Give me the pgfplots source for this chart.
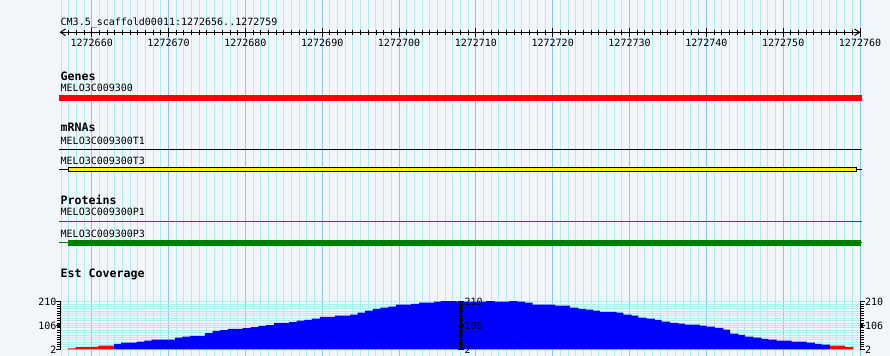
\documentclass[border=0pt]{standalone}
\usepackage{fontspec}
\usepackage{pgfplots}
\pgfplotsset{compat=1.18}
\newfontfamily\pixfont{DejaVu Sans Mono}
\newcommand\sm{\pixfont\fontsize{10bp}{12bp}\selectfont}
\newcommand\bd{\pixfont\bfseries\fontsize{11.6bp}{13bp}\selectfont}
\definecolor{bgc}{RGB}{242,245,250}
\definecolor{gmin}{RGB}{175,238,238}
\definecolor{gmaj}{RGB}{130,200,245}
\definecolor{protgreen}{RGB}{0,128,0}
\begin{document}
\begin{tikzpicture}
\useasboundingbox (0,0) rectangle (890bp,356bp);
% ---------- main canvas: x = position - 1272650, y = pixel row ----------
\begin{axis}[name=main, at={(0,0)}, anchor=south west, scale only axis,
  width=890bp, height=356bp,
  xmin=-1.940, xmax=113.904, ymin=0, ymax=356, y dir=reverse,
  axis background/.style={fill=bgc},
  axis line style={draw=none},
  xtick={10,20,...,110},
  minor xtick={6,7,8,9,11,12,...,19,21,22,...,29,31,32,...,39,41,42,...,49,51,52,...,59,61,62,...,69,71,72,...,79,81,82,...,89,91,92,...,99,101,102,...,109},
  xmajorgrids, xminorgrids,
  major grid style={draw=gmaj, line width=1bp},
  minor grid style={draw=gmin, line width=1bp},
  major tick length=0pt, minor tick length=0pt,
  xticklabels={}, ytick=\empty, clip=false]
% Genes
\addplot[red, line width=5.7bp] coordinates {(5.74,97.85) (110.26,97.85)};
% mRNAs
\addplot[black, line width=1bp] coordinates {(5.74,149.3) (110.26,149.3)};
\addplot[black, line width=1bp] coordinates {(5.74,169.2) (6.95,169.2)};
\addplot[black, line width=1bp] coordinates {(109.565,169.2) (110.26,169.2)};
\addplot[black, line width=5.3bp] coordinates {(6.95,169.2) (109.565,169.2)};
\addplot[yellow, line width=3.3bp] coordinates {(7.08,169.2) (109.435,169.2)};
% Proteins
\addplot[protgreen, line width=1bp] coordinates {(5.74,221.3) (110.26,221.3)};
\addplot[protgreen, line width=1bp] coordinates {(5.74,242.8) (110.26,242.8)};
\addplot[protgreen, line width=5.7bp] coordinates {(6.95,242.85) (110.09,242.85)};
\end{axis}
% ---------- coverage ----------
\begin{axis}[at={(61bp,6.7bp)}, anchor=south west, scale only axis,
  width=799bp, height=47.6bp,
  xmin=6, xmax=110, ymin=2, ymax=210,
  axis line style={draw=none}, xtick=\empty,
  ytick={2,106,210}, minor y tick num=9, ymajorgrids, yminorgrids,
  major grid style={draw=gmin, line width=1bp}, minor grid style={draw=gmin, line width=1bp},
  major tick length=0pt, minor tick length=0pt, yticklabels={}]
\addplot[fill=red, draw=none, const plot] coordinates {
 (6.87,6) (7.91,11) (9.90,13) (10.85,18) (12.90,18)} \closedcycle;
\addplot[fill=blue, draw=none, const plot] coordinates {
 (12.90,26) (13.81,31) (15.85,35) (16.84,40) (17.81,44) (20.84,53) (21.79,57)
 (22.79,61) (24.74,73) (25.74,82) (26.70,86) (27.70,91) (29.65,95) (30.69,99)
 (31.68,104) (32.68,108) (33.72,117) (35.68,121) (36.68,127) (37.67,131)
 (38.67,136) (39.71,144) (41.66,149) (43.62,153) (44.62,162) (45.57,171)
 (46.61,179) (47.56,184) (48.60,188) (49.60,197) (51.56,201) (52.60,206)
 (54.55,210) (55.46,214) (57.50,210) (61.32,214) (62.40,210) (64.35,214)
 (65.39,210) (66.39,206) (67.40,197) (70.30,193) (72.25,184) (73.33,179)
 (74.33,175) (75.28,171) (76.15,166) (78.33,162) (79.19,153) (80.28,149)
 (81.14,140) (82.23,136) (83.31,131) (84.19,123) (85.27,118) (86.35,114)
 (87.22,110) (89.17,105) (90.04,101) (91.12,96) (92.20,88) (93.08,70)
 (94.16,65) (95.03,57) (96.11,53) (97.20,48) (98.06,44) (99.15,40)
 (101.11,35) (103.06,31) (104.14,26) (105.01,22) (106.09,22)} \closedcycle;
\addplot[fill=red, draw=none, const plot] coordinates {
 (106.09,18) (108.04,12) (109.12,12)} \closedcycle;
\end{axis}
% ---------- decorations in pixel units ----------
\begin{scope}[x=1bp, y=1bp]
\node[anchor=base west, inner sep=0] at (60.5,331) {\sm CM3.5\_scaffold00011:1272656..1272759};
% ruler
\draw[line width=1bp] (60,323.7) -- (860,323.7);
\draw[line width=1bp] (65.5,327) -- (60.5,323.7) -- (65.5,320.4);
\draw[line width=1bp] (854.5,327) -- (859.5,323.7) -- (854.5,320.4);
\foreach \i in {7,...,109} \draw[line width=1bp] ({61+7.683*(\i-6)},321.2) -- ++(0,5);
\foreach \i in {10,20,...,110} \draw[line width=1bp] ({61+7.683*(\i-6)},319.3) -- ++(0,8.4);
\foreach \u/\t in {10/1272660,20/1272670,30/1272680,40/1272690,50/1272700,60/1272710,70/1272720,80/1272730,90/1272740,100/1272750,110/1272760}
  \node[anchor=base, inner sep=0] at ({61+7.683*(\u-6)},310) {\sm\t};
% track labels
\node[anchor=base west, inner sep=0] at (60.5,276) {\bd Genes};
\node[anchor=base west, inner sep=0] at (60.5,264.3) {\sm MELO3C009300};
\node[anchor=base west, inner sep=0] at (60.5,224.3) {\bd mRNAs};
\node[anchor=base west, inner sep=0] at (60.5,211.7) {\sm MELO3C009300T1};
\node[anchor=base west, inner sep=0] at (60.5,191.7) {\sm MELO3C009300T3};
\node[anchor=base west, inner sep=0] at (60.5,152) {\bd Proteins};
\node[anchor=base west, inner sep=0] at (60.5,140.3) {\sm MELO3C009300P1};
\node[anchor=base west, inner sep=0] at (60.5,118.7) {\sm MELO3C009300P3};
\node[anchor=base west, inner sep=0] at (60.5,78.5) {\bd Est Coverage};
% coverage scales
\draw[line width=1bp] (60,6.2) -- (60,54.8);
\draw[line width=1.5bp] (461,6.2) -- (461,54.8);
\draw[line width=1bp] (860,6.2) -- (860,54.8);
\foreach \k in {0,...,20} {
  \draw[line width=1bp] (57,{6.7+2.38*\k}) -- (60,{6.7+2.38*\k});
  \draw[line width=1bp] (458.5,{6.7+2.38*\k}) -- (463,{6.7+2.38*\k});
  \draw[line width=1bp] (860,{6.7+2.38*\k}) -- (863.5,{6.7+2.38*\k});
}
\foreach \k in {0,10,20} {
  \draw[line width=1bp] (56,{6.7+2.38*\k}) -- (60,{6.7+2.38*\k});
  \draw[line width=1bp] (458,{6.7+2.38*\k}) -- (463.5,{6.7+2.38*\k});
  \draw[line width=1bp] (860,{6.7+2.38*\k}) -- (864.5,{6.7+2.38*\k});
}
\fill (57,29) rectangle (60,32);
\fill (459,29) rectangle (462.5,32);
\fill (860,29) rectangle (863,32);
\foreach \y/\t in {6.7/2,30.5/106,54.3/210} {
  \node[anchor=east, inner sep=0] at (56.7,\y) {\sm\t};
  \node[anchor=west, inner sep=0] at (464.5,\y) {\sm\t};
  \node[anchor=west, inner sep=0] at (865,\y) {\sm\t};
}
\end{scope}
\end{tikzpicture}
\end{document}
